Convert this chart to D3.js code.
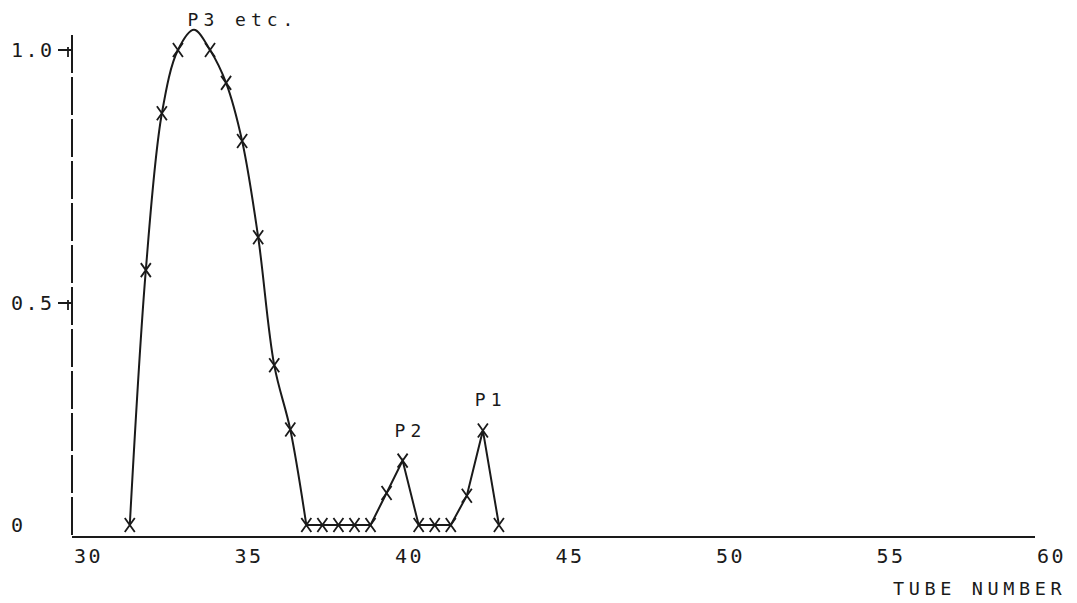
<!DOCTYPE html>
<html>
<head>
<meta charset="utf-8">
<script src="https://cdn.jsdelivr.net/npm/d3@7"></script>
<style>
  body { margin: 0; background: #fff; }
  text { font-family: "DejaVu Sans Mono", monospace; fill: #1a1a1a; }
</style>
</head>
<body>
<script>
// tube positions and relative amounts (one X per reading)
var tubes = [31.8, 32.3, 32.8, 33.3, 34.3, 34.8, 35.3, 35.8, 36.3, 36.8, 37.3,
             37.8, 38.3, 38.8, 39.3, 39.8, 40.3, 40.8, 41.3, 41.8, 42.3, 42.8, 43.3];
var amounts = [0, 0.565, 0.875, 1.0, 1.0, 0.935, 0.82, 0.63, 0.36, 0.215, 0,
               0, 0, 0, 0, 0.072, 0.145, 0, 0, 0, 0.066, 0.213, 0];
// apex of the drawn curve of the main peak (no X there)
var apexTube = [33.8];
var apexAmount = [1.04];
var xTicks = [30, 35, 40, 45, 50, 55, 60];
var yTicks = [0, 0.5, 1.0];
var yTickLabels = ["0", "0.5", "1.0"];
var peakNames = ["P3 etc.", "P2", "P1"];
var peakNameTubes = [33.6, 40.05, 42.55];
var peakNameAmounts = [1.047, 0.198, 0.268];

const width = 1077;
const height = 603;

const svg = d3.select("body")
  .append("svg")
  .attr("width", width)
  .attr("height", height);

var x = d3.scaleLinear().domain([30, 60]).range([72, 1035]);
// hand drawn plot: the axis spacing is not quite even
var y = d3.scaleLinear().domain([0, 0.5, 1.0]).range([525, 303, 50]);

var pts = tubes.map(function(t, i) { return [t, amounts[i]]; });
var mainPeak = pts.slice(0, 11).concat([[apexTube[0], apexAmount[0]]])
  .sort(function(a, b) { return a[0] - b[0]; });

// axes
svg.append("line")
  .attr("x1", x(30)).attr("x2", x(60))
  .attr("y1", 537).attr("y2", 537)
  .attr("stroke", "#1a1a1a").attr("stroke-width", 2.2);

svg.append("line")
  .attr("x1", x(30)).attr("x2", x(30))
  .attr("y1", 35).attr("y2", 537)
  .attr("stroke", "#1a1a1a").attr("stroke-width", 2)
  .attr("stroke-dasharray", "38,4");

svg.selectAll(".xlab")
  .data(xTicks)
  .enter()
  .append("text")
  .attr("class", "xlab")
  .attr("x", function(d) { return x(d) + 2; })
  .attr("y", 563)
  .style("font-size", "20px")
  .style("letter-spacing", "2.5px")
  .text(function(d) { return d; });

svg.append("text")
  .attr("x", 893)
  .attr("y", 595)
  .style("font-size", "18.5px")
  .style("letter-spacing", "4.6px")
  .text("TUBE NUMBER");

svg.selectAll(".ylab")
  .data(yTicks)
  .enter()
  .append("text")
  .attr("class", "ylab")
  .attr("x", 11)
  .attr("y", function(d) { return y(d) + 7; })
  .style("font-size", "20px")
  .style("letter-spacing", "2.5px")
  .text(function(d, i) { return yTickLabels[i]; });

svg.selectAll(".ytick")
  .data(yTicks.filter(function(d) { return d > 0; }))
  .enter()
  .append("path")
  .attr("class", "ytick")
  .attr("d", function(d) {
    var yy = y(d);
    return "M" + (x(30) - 14) + "," + yy + "H" + x(30) + "M" + (x(30) - 4) + "," + (yy - 3) + "V" + (yy + 7);
  })
  .attr("fill", "none")
  .attr("stroke", "#1a1a1a")
  .attr("stroke-width", 1.8);

// main peak is drawn as a smooth curve, the rest as straight segments
var smooth = d3.line()
  .x(function(d) { return x(d[0]); })
  .y(function(d) { return y(d[1]); })
  .curve(d3.curveCatmullRom.alpha(0.5));
var straight = d3.line()
  .x(function(d) { return x(d[0]); })
  .y(function(d) { return y(d[1]); });

svg.append("path")
  .attr("d", smooth(mainPeak))
  .attr("fill", "none")
  .attr("stroke", "#1a1a1a")
  .attr("stroke-width", 2);

svg.append("path")
  .attr("d", straight(pts.slice(10)))
  .attr("fill", "none")
  .attr("stroke", "#1a1a1a")
  .attr("stroke-width", 2);

// X markers
svg.selectAll(".mark")
  .data(pts)
  .enter()
  .append("path")
  .attr("class", "mark")
  .attr("transform", function(d) { return "translate(" + x(d[0]) + "," + y(d[1]) + ")"; })
  .attr("d", "M-5,-7L5,7M5,-7L-5,7")
  .attr("fill", "none")
  .attr("stroke", "#1a1a1a")
  .attr("stroke-width", 1.8);

svg.selectAll(".peak")
  .data(peakNames)
  .enter()
  .append("text")
  .attr("class", "peak")
  .attr("x", function(d, i) { return x(peakNameTubes[i]); })
  .attr("y", function(d, i) { return y(peakNameAmounts[i]); })
  .style("font-size", "18px")
  .style("letter-spacing", "5px")
  .text(function(d) { return d; });
</script>
</body>
</html>
